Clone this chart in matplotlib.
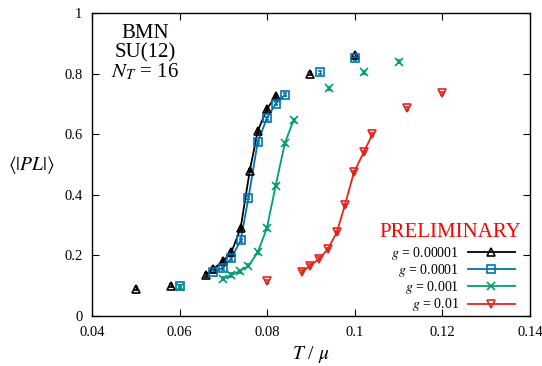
import matplotlib.pyplot as plt
from matplotlib.lines import Line2D

plt.rcParams['font.family'] = ['Liberation Serif', 'DejaVu Serif']
plt.rcParams['mathtext.fontset'] = 'stix'

# g = 0.00001
t_a = [0.050, 0.058, 0.066, 0.0677, 0.0698, 0.0718, 0.0739, 0.0760, 0.0778, 0.0799, 0.0819, 0.0897, 0.100]
p_a = [0.089, 0.100, 0.135, 0.155, 0.180, 0.210, 0.290, 0.480, 0.610, 0.683, 0.726, 0.800, 0.861]
# g = 0.0001
t_b = [0.060, 0.0677, 0.0698, 0.0718, 0.0739, 0.0757, 0.0778, 0.0799, 0.0819, 0.0840, 0.092, 0.100]
p_b = [0.098, 0.145, 0.158, 0.190, 0.250, 0.390, 0.574, 0.653, 0.700, 0.730, 0.805, 0.851]
# g = 0.001
t_c = [0.060, 0.0698, 0.0718, 0.0737, 0.0757, 0.0778, 0.0799, 0.0819, 0.0840, 0.0860, 0.094, 0.102, 0.110]
p_c = [0.095, 0.122, 0.135, 0.148, 0.165, 0.210, 0.290, 0.430, 0.570, 0.647, 0.752, 0.805, 0.840]
# g = 0.01
t_d = [0.0799, 0.0879, 0.0897, 0.0918, 0.0938, 0.0959, 0.0977, 0.0998, 0.1020, 0.1040, 0.112, 0.120]
p_d = [0.115, 0.145, 0.165, 0.188, 0.220, 0.277, 0.366, 0.475, 0.540, 0.600, 0.686, 0.736]

# index range of points covered by the fit curve
fit_a = (2, 11)
fit_b = (1, 10)
fit_c = (1, 10)
fit_d = (1, 10)

labels = [r'$g$ = 0.00001', r'$g$ = 0.0001', r'$g$ = 0.001', r'$g$ = 0.01']
colors = ['black', '#0072b2', '#009e73', '#e8231a']
markers = ['^', 's', 'x', 'v']

fig = plt.figure(figsize=(5.42, 3.66), dpi=100)
ax = fig.add_axes([0.170, 0.137, 0.808, 0.827])

series = [(t_a, p_a, fit_a), (t_b, p_b, fit_b), (t_c, p_c, fit_c), (t_d, p_d, fit_d)]
handles = []
for (t, p, fr), c, m, lab in zip(series, colors, markers, labels):
    ax.plot(t[fr[0]:fr[1]], p[fr[0]:fr[1]], color=c, lw=1.3, zorder=2)
    ax.errorbar(t, p, yerr=0.005, fmt=m, ms=5.5, mfc='none', mec=c, mew=1.2,
                ecolor=c, elinewidth=1, capsize=1.5, zorder=3)
    handles.append(Line2D([0], [0], color=c, marker=m, ms=6, mfc='none', mew=1.2, lw=1.3))

ax.set_xlim(0.04, 0.14)
ax.set_ylim(0, 1)
ax.set_xticks([0.04, 0.06, 0.08, 0.1, 0.12, 0.14])
ax.set_xticklabels(['0.04', '0.06', '0.08', '0.1', '0.12', '0.14'])
ax.set_yticks([0, 0.2, 0.4, 0.6, 0.8, 1])
ax.set_yticklabels(['0', '0.2', '0.4', '0.6', '0.8', '1'])
ax.tick_params(direction='in', top=True, right=True, labelsize=10.5, length=5, pad=7)
for s in ax.spines.values():
    s.set_linewidth(1.0)

ax.set_xlabel(r'$T$ / $\mu$', fontsize=14, labelpad=4)
ax.set_ylabel(r'$\langle|PL|\rangle$', fontsize=14, rotation=0, labelpad=24, va='center')

ax.text(0.121, 0.965, 'BMN\nSU(12)\n$N_T$ = 16', transform=ax.transAxes, ha='center', va='top',
        fontsize=15, linespacing=1.0)
ax.text(0.817, 0.276, 'PRELIMINARY', transform=ax.transAxes, ha='center', va='center',
        fontsize=15, color='red')

ax.legend(handles, labels, loc='lower right', markerfirst=False, frameon=False,
          fontsize=10, handlelength=3.4, handletextpad=0.6, labelspacing=0.02,
          borderaxespad=0.0, borderpad=0.0, bbox_to_anchor=(0.965, 0.008))

fig.savefig('out.png', dpi=100)
